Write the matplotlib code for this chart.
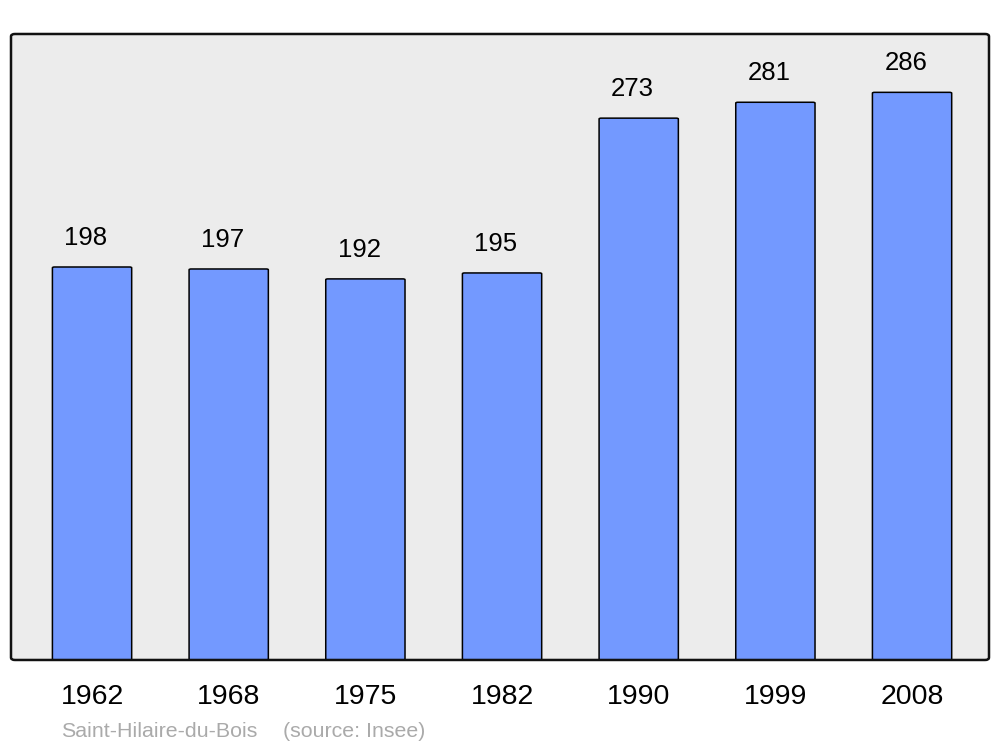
import matplotlib.pyplot as plt
from matplotlib.patches import FancyBboxPatch

plt.rcParams['font.family'] = ['Liberation Sans', 'DejaVu Sans']

years = ['1962', '1968', '1975', '1982', '1990', '1999', '2008']
population = [198, 197, 192, 195, 273, 281, 286]
commune = 'Saint-Hilaire-du-Bois'
source = '(source: Insee)'

fig = plt.figure(figsize=(10, 7.47), dpi=100)
ax = fig.add_axes([0.011, 0.1165, 0.978, 0.838])
ax.set_facecolor('#ececec')

bars = ax.bar(range(len(years)), population, width=0.58, color='#7399ff')

# swap plain rectangles for slightly rounded ones
for b in bars:
    x, y = b.get_xy()
    w, h = b.get_width(), b.get_height()
    b.set_visible(False)
    p = FancyBboxPatch((x, y), w, h, boxstyle='round,pad=0,rounding_size=0.015',
                       mutation_aspect=315 / 7.2 * 0.838 / 0.978 * 7.47 / 10,
                       facecolor='#7399ff', edgecolor='black', linewidth=1.1)
    ax.add_patch(p)
    ax.annotate(str(int(h)), (x + w / 2, h), xytext=(-6, 29), textcoords='offset pixels',
                ha='center', va='center', fontsize=18.5)

ax.set_xlim(-0.593, 6.563)
ax.set_ylim(0, 315.4)
ax.set_xticks(range(len(years)))
ax.set_xticklabels(years, fontsize=20.5)
ax.tick_params(axis='x', length=0, pad=17)
ax.set_yticks([])
for s in ax.spines.values():
    s.set_visible(False)

frame = FancyBboxPatch((0, 0), 1, 1, boxstyle='round,pad=0,rounding_size=0.004',
                       transform=ax.transAxes, facecolor='none', edgecolor='#111111',
                       linewidth=1.8, clip_on=False, zorder=5)
ax.add_patch(frame)

fig.text(0.061, 0.0205, commune, color='#aaaaaa', fontsize=15.4, va='center')
fig.text(0.283, 0.0205, source, color='#aaaaaa', fontsize=15.4, va='center')

fig.savefig('out.png', dpi=100)
